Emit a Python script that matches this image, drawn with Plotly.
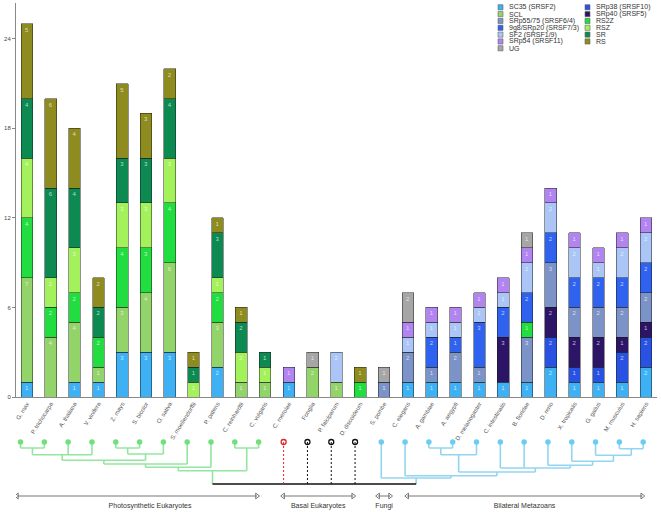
import plotly.graph_objects as go

# ---------------- data ----------------
species = ["G. max", "P. trichocarpa", "A. thaliana", "V. vinifera", "Z. mays", "S. bicolor",
           "O. sativa", "S. moellendorffii", "P. patens", "C. reinhardtii", "C. vulgaris",
           "C. merolae", "Fonglia", "P. falciparum", "D. discoideum", "S. pombe", "C. elegans",
           "A. gambiae", "A. aegypti", "D. melanogaster", "C. intestinalis", "B. floridae",
           "D. rerio", "X. tropicalis", "G. gallus", "M. musculus", "H. sapiens"]

sc35  = [1, 0, 1, 1, 3, 3, 3, 0, 2, 0, 0, 1, 0, 0, 0, 0, 1, 1, 1, 1, 1, 1, 2, 1, 1, 1, 2]
srp38 = [0, 0, 0, 0, 0, 0, 0, 0, 0, 0, 0, 0, 0, 0, 0, 0, 0, 0, 0, 0, 0, 0, 2, 1, 1, 2, 2]
srp40 = [0, 0, 0, 0, 0, 0, 0, 0, 0, 0, 0, 0, 0, 0, 0, 0, 0, 0, 0, 0, 3, 0, 2, 2, 2, 1, 1]
scl   = [7, 4, 4, 1, 3, 4, 6, 0, 3, 1, 1, 0, 2, 1, 0, 0, 0, 0, 0, 0, 0, 0, 0, 0, 0, 0, 0]
srp55 = [0, 0, 0, 0, 0, 0, 0, 0, 0, 0, 0, 0, 0, 0, 0, 1, 2, 1, 2, 1, 0, 3, 3, 2, 2, 2, 2]
rs2z  = [4, 2, 2, 2, 4, 3, 4, 0, 2, 0, 0, 0, 0, 0, 1, 0, 0, 0, 0, 0, 0, 1, 0, 0, 0, 0, 0]
g9    = [0, 0, 0, 0, 0, 0, 0, 0, 0, 0, 0, 0, 0, 0, 0, 0, 0, 2, 1, 3, 2, 2, 2, 2, 2, 2, 2]
rsz   = [4, 2, 3, 0, 3, 3, 3, 1, 1, 2, 1, 0, 0, 0, 0, 0, 0, 0, 0, 0, 0, 0, 0, 0, 0, 0, 0]
sf2   = [0, 0, 0, 0, 0, 0, 0, 0, 0, 0, 0, 0, 0, 2, 0, 0, 1, 1, 1, 1, 1, 2, 2, 2, 1, 2, 2]
sr    = [4, 6, 4, 2, 3, 3, 4, 1, 3, 2, 1, 0, 0, 0, 0, 0, 0, 0, 0, 0, 0, 0, 0, 0, 0, 0, 0]
srp54 = [0, 0, 0, 0, 0, 0, 0, 0, 0, 0, 0, 1, 0, 0, 0, 0, 1, 1, 1, 1, 1, 1, 1, 1, 1, 1, 1]
rs    = [5, 6, 4, 2, 5, 3, 2, 1, 1, 1, 0, 0, 0, 0, 1, 0, 0, 0, 0, 0, 0, 0, 0, 0, 0, 0, 0]
ug    = [0, 0, 0, 0, 0, 0, 0, 0, 0, 0, 0, 0, 1, 0, 0, 1, 2, 0, 0, 0, 0, 1, 0, 0, 0, 0, 0]

series_names = ["SC35 (SRSF2)", "SRp38 (SRSF10)", "SRp40 (SRSF5)", "SCL", "SRp55/75 (SRSF6/4)",
                "RS2Z", "9g8/SRp20 (SRSF7/3)", "RSZ", "SF2 (SRSF1/9)", "SR", "SRp54 (SRSF11)",
                "RS", "UG"]
series_values = [sc35, srp38, srp40, scl, srp55, rs2z, g9, rsz, sf2, sr, srp54, rs, ug]
series_colors = ["#3db1f4", "#2a52e2", "#2c1466", "#92d36a", "#7c93c8", "#21dd3f", "#2f62ee",
                 "#a3f25c", "#aac5f6", "#0c8a52", "#b184ef", "#8e8b1f", "#a6a6a6"]

legend_col1 = ["SC35 (SRSF2)", "SCL", "SRp55/75 (SRSF6/4)", "9g8/SRp20 (SRSF7/3)",
               "SF2 (SRSF1/9)", "SRp54 (SRSF11)", "UG"]
legend_col2 = ["SRp38 (SRSF10)", "SRp40 (SRSF5)", "RS2Z", "RSZ", "SR", "RS"]

y_ticks = [0, 6, 12, 18, 24]

# tree: (height below leaves, [children]); leaves are species indices
gp = (6, [0, 1]); ros = (12.7, [gp, 2, 3]); zs = (6, [4, 5]); mono = (12, [zs, 6])
angio = (18.3, [ros, mono]); trach = (22, [angio, 7]); emb = (25.3, [trach, 8])
chl = (6, [9, 10]); plants_tree = (28.7, [emb, chl])
aa = (6, [17, 18]); ins = (12.7, [aa, 19]); mh = (6.7, [25, 26]); amn = (13.3, [24, mh])
tet = (19.3, [23, amn]); vert = (23.3, [22, tet]); deut = (26, [20, 21, vert])
bil = (30, [ins, deut]); ecd = (33.7, [16, bil]); opi_tree = (36, [15, ecd])
basal_leaves = [11, 12, 13, 14]
root_height = 42

group_names = ["Photosynthetic Eukaryotes", "Basal Eukaryotes", "Fungi", "Bilateral Metazoans"]
group_start = [-0.42, 10.76, 14.75, 15.97]
group_end = [9.66, 13.7, 15.25, 25.84]
group_label_x = [5.17, 12.23, 15.0, 20.9]

# ---------------- layout helpers ----------------
W, H = 661, 512
ML, MR, MT, MB = 16, 4, 3, 0
PW, PH = W - ML - MR, H - MT - MB
def pxx(x): return (x - ML) / PW
def pyy(y): return (H - MB - y) / PH

FONT = "Liberation Sans, Arial, sans-serif"
fig = go.Figure()

for name, vals, col in zip(series_names, series_values, series_colors):
    yv = [v if v else None for v in vals]
    fig.add_trace(go.Bar(
        x=species, y=yv, name=name, width=0.49,
        marker=dict(color=col, line=dict(color="rgba(25,25,25,0.6)", width=0.8)),
        text=[str(v) if v else "" for v in vals], textposition="inside",
        insidetextanchor="end", textangle=0,
        textfont=dict(size=6, color="rgba(255,255,255,0.7)", family=FONT),
        showlegend=False, hoverinfo="x+y+name"))

# ---------------- tree ----------------
green_seg = ([], []); blue_seg = ([], [])

def draw(node, off, seg):
    if isinstance(node, int):
        return node + off, 0
    h, kids = node
    xs = []
    for k in kids:
        kx, kh = draw(k, off, seg)
        seg[0].extend([kx, kx, None]); seg[1].extend([kh, h, None])
        xs.append(kx)
    seg[0].extend([min(xs), max(xs), None]); seg[1].extend([h, h, None])
    return (min(xs) + max(xs)) / 2, h

OFF_P, OFF_B, OFF_A = -0.27, -0.22, -0.12
px_root, ph_root = draw(plants_tree, OFF_P, green_seg)
ax_root, ah_root = draw(opi_tree, OFF_A, blue_seg)
green_seg[0].extend([px_root, px_root, None]); green_seg[1].extend([ph_root, root_height, None])
blue_seg[0].extend([ax_root, ax_root, None]); blue_seg[1].extend([ah_root, root_height, None])

for seg, col in [(green_seg, "#93e6a0"), (blue_seg, "#93d5f0")]:
    fig.add_trace(go.Scatter(x=seg[0], y=seg[1], mode="lines", xaxis="x2", yaxis="y2",
                             line=dict(color=col, width=1.6), showlegend=False, hoverinfo="skip"))

fig.add_trace(go.Scatter(x=[px_root, ax_root], y=[root_height, root_height], mode="lines",
                         xaxis="x2", yaxis="y2", line=dict(color="#111", width=1.3),
                         showlegend=False, hoverinfo="skip"))
for i in basal_leaves:
    col = "#dd2222" if i == basal_leaves[0] else "#111"
    fig.add_trace(go.Scatter(x=[i + OFF_B, i + OFF_B], y=[0, root_height], mode="lines",
                             xaxis="x2", yaxis="y2", line=dict(color=col, width=1, dash="2px,2px"),
                             showlegend=False, hoverinfo="skip"))
    fig.add_trace(go.Scatter(x=[i + OFF_B], y=[0], mode="markers", xaxis="x2", yaxis="y2",
                             marker=dict(symbol="circle-open", size=5, color=col, line=dict(width=1.3)),
                             showlegend=False, hoverinfo="skip"))

fig.add_trace(go.Scatter(x=[i + OFF_P for i in range(11)], y=[0] * 11, mode="markers",
                         xaxis="x2", yaxis="y2", marker=dict(size=5.5, color="#6fe07c"),
                         showlegend=False, hoverinfo="skip"))
fig.add_trace(go.Scatter(x=[i + OFF_A for i in range(15, 27)], y=[0] * 12, mode="markers",
                         xaxis="x2", yaxis="y2", marker=dict(size=5.5, color="#6ccdf2"),
                         showlegend=False, hoverinfo="skip"))

# group arrows
for name, s, e in zip(group_names, group_start, group_end):
    fig.add_trace(go.Scatter(x=[s, e], y=[54, 54], mode="lines+markers", xaxis="x2", yaxis="y2",
                             line=dict(color="#777", width=1),
                             marker=dict(symbol=["triangle-left-open", "triangle-right-open"],
                                         size=5, color="#777", line=dict(width=1)),
                             showlegend=False, hoverinfo="skip"))
fig.add_trace(go.Scatter(x=group_label_x, y=[64] * len(group_names), mode="text",
                         text=group_names, textposition="middle center",
                         textfont=dict(size=7, color="#333333", family=FONT),
                         xaxis="x2", yaxis="y2", showlegend=False, hoverinfo="skip"))

# ---------------- custom two-column legend ----------------
color_of = dict(zip(series_names, series_colors))
row_y0, row_dy = 7.3, 6.83
for col_names, sx in [(legend_col1, 498), (legend_col2, 585)]:
    for r, nm in enumerate(col_names):
        cy = row_y0 + r * row_dy
        fig.add_shape(type="rect", xref="paper", yref="paper",
                      x0=pxx(sx), x1=pxx(sx + 5), y0=pyy(cy + 2.6), y1=pyy(cy - 2.6),
                      fillcolor=color_of[nm], line=dict(color="#666", width=0.6))
        fig.add_annotation(x=pxx(sx + 9), y=pyy(cy), xref="paper", yref="paper", text=nm,
                           showarrow=False, xanchor="left", yanchor="middle",
                           font=dict(size=7, color="#333", family=FONT))

main_bottom = pyy(397)
fig.update_layout(
    width=W, height=H, template="none",
    margin=dict(l=ML, r=MR, t=MT, b=MB, pad=0),
    paper_bgcolor="white", plot_bgcolor="white",
    barmode="stack", showlegend=False, hovermode=False,
    font=dict(family=FONT, color="#333"),
    xaxis=dict(domain=[0, 1], range=[-0.46, 26.46], type="category", showline=True,
               linecolor="#888", linewidth=1, ticks="", tickangle=-58,
               tickfont=dict(size=6, color="#555", family=FONT), showgrid=False, zeroline=False,
               anchor="y"),
    yaxis=dict(domain=[main_bottom, 1], range=[0, 26.4], tickvals=y_ticks, ticks="outside",
               ticklen=3, tickcolor="#888", showline=True, linecolor="#888", linewidth=1,
               tickfont=dict(size=6, color="#444", family=FONT), showgrid=False, zeroline=False,
               anchor="x"),
    xaxis2=dict(domain=[0, 1], range=[-0.46, 26.46], visible=False, anchor="y2"),
    yaxis2=dict(domain=[0, pyy(425.5)], range=[H - 425.5 - 16.5, -16.5], visible=False,
                anchor="x2"),
)

fig.write_html("out.html", config={"staticPlot": True, "displayModeBar": False},
               post_script="document.body.style.margin='0px';document.body.style.overflow='hidden';")
